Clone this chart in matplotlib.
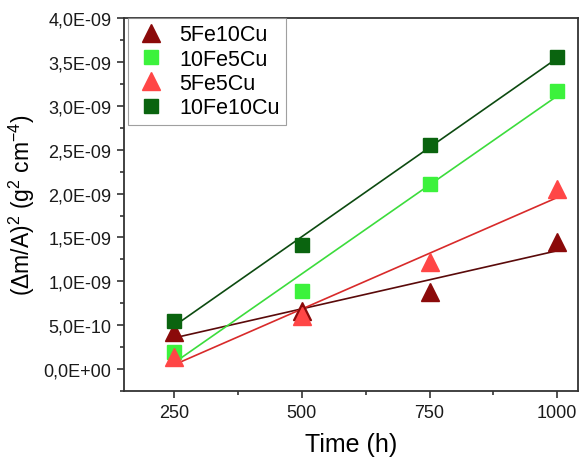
import numpy as np
import matplotlib.pyplot as plt
from matplotlib.ticker import FuncFormatter, MultipleLocator

plt.rcParams['font.family'] = ['Liberation Sans', 'DejaVu Sans']
plt.rcParams['mathtext.default'] = 'regular'

# 数据
time_h = [250, 500, 750, 1000]
fe5cu10 = [4.2e-10, 6.6e-10, 8.8e-10, 1.45e-9]
fe10cu5 = [2.0e-10, 8.9e-10, 2.11e-9, 3.17e-9]
fe5cu5 = [1.4e-10, 6.0e-10, 1.22e-9, 2.05e-9]
fe10cu10 = [5.5e-10, 1.41e-9, 2.55e-9, 3.56e-9]

y_ticks = [0, 5e-10, 1e-9, 1.5e-9, 2e-9, 2.5e-9, 3e-9, 3.5e-9, 4e-9]

series = [
    ("5Fe10Cu", fe5cu10, '^', '#8b0a0a', '#5a0a0a', 13),
    ("10Fe5Cu", fe10cu5, 's', '#3cf23c', '#3cdc3c', 10.5),
    ("5Fe5Cu", fe5cu5, '^', '#ff4646', '#d82a2a', 13),
    ("10Fe10Cu", fe10cu10, 's', '#0a640f', '#0c4a10', 10.5),
]


def sci_comma(v, pos):
    s = "%.1E" % v
    mant, exp = s.split("E")
    return mant.replace(".", ",") + "E" + exp


def main():
    fig = plt.figure(figsize=(5.8, 4.64), dpi=100)
    ax = fig.add_axes([0.214, 0.155, 0.782, 0.804])

    x = np.array(time_h)
    for name, vals, mk, col, lcol, ms in series:
        y = np.array(vals)
        # 线性拟合
        k, b = np.polyfit(x, y, 1)
        ax.plot(x, k * x + b, color=lcol, lw=1.2, zorder=2)
        ax.plot(x, y, linestyle='none', marker=mk, markersize=ms,
                color=col, label=name, zorder=3)

    ax.set_xlim(152, 1040)
    ax.set_ylim(-2.5e-10, 4.0e-9)
    ax.set_xticks([250, 500, 750, 1000])
    ax.xaxis.set_minor_locator(MultipleLocator(125))
    ax.set_yticks(y_ticks)
    ax.yaxis.set_minor_locator(MultipleLocator(2.5e-10))
    ax.yaxis.set_major_formatter(FuncFormatter(sci_comma))

    ax.tick_params(which='both', direction='out', top=False, right=False,
                   width=1.2, colors='#333333', labelcolor='#1a1a1a')
    ax.tick_params(which='major', length=5, labelsize=13, pad=4)
    ax.tick_params(which='minor', length=3)
    for sp in ax.spines.values():
        sp.set_color('#333333')
        sp.set_linewidth(1.3)

    ax.set_xlabel("Time (h)", fontsize=18, labelpad=8)
    ax.set_ylabel("($\\Delta$m/A)$^2$ (g$^2$ cm$^{-4}$)", fontsize=16.5,
                  labelpad=5)

    leg = ax.legend(loc='upper left', bbox_to_anchor=(0.008, 1.0),
                    fontsize=15.5, frameon=True, fancybox=False,
                    borderaxespad=0, handletextpad=0.5, labelspacing=0.15,
                    borderpad=0.3, handlelength=1.6)
    leg.get_frame().set_edgecolor('#888888')
    leg.get_frame().set_linewidth(0.8)

    fig.savefig("out.png", dpi=100)


if __name__ == "__main__":
    main()
